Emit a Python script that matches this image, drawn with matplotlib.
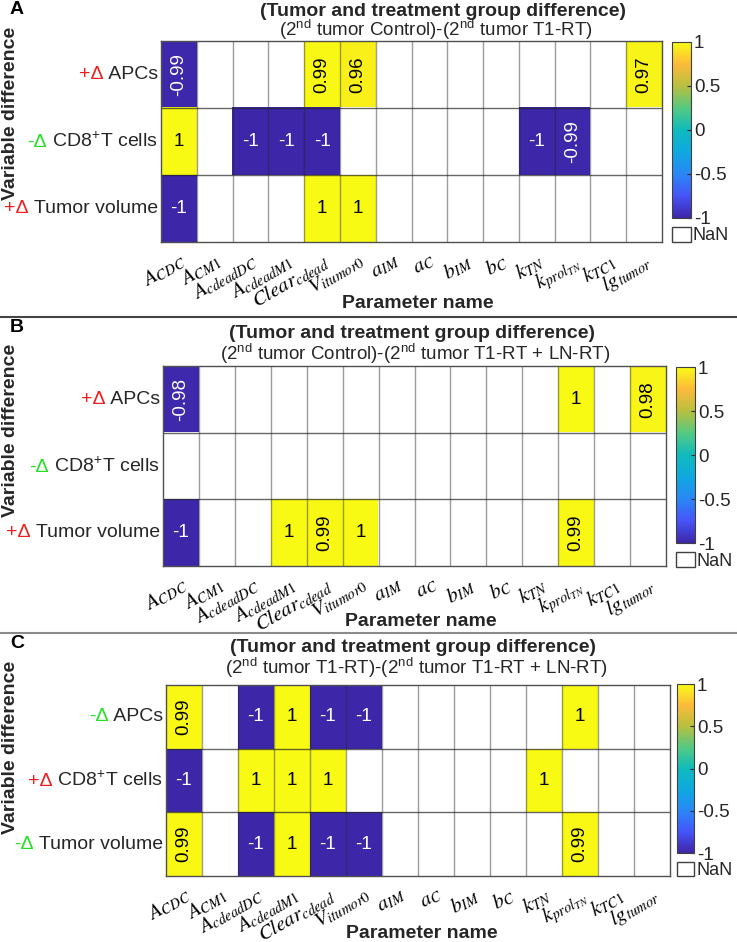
import numpy as np
import matplotlib
matplotlib.use("Agg")
import matplotlib.pyplot as plt
from matplotlib.colors import LinearSegmentedColormap
from matplotlib.lines import Line2D
from matplotlib.patches import Rectangle
from matplotlib.offsetbox import TextArea, HPacker, AnnotationBbox

plt.rcParams["font.family"] = ["Liberation Sans", "DejaVu Sans"]
plt.rcParams["mathtext.fontset"] = "custom"
plt.rcParams["mathtext.rm"] = "Liberation Sans"
plt.rcParams["mathtext.it"] = "Liberation Sans:italic"
plt.rcParams["mathtext.bf"] = "Liberation Sans:bold"
plt.rcParams["axes.unicode_minus"] = False

nan = np.nan

# parameter names (x axis)
param_labels = [r"$A_{CDC}$", r"$A_{CM1}$", r"$A_{cdeadDC}$", r"$A_{cdeadM1}$",
                r"$Clear_{cdead}$", r"$V_{itumor0}$", r"$a_{IM}$", r"$a_{C}$",
                r"$b_{IM}$", r"$b_{C}$", r"$k_{TN}$", r"$k_{prol_{TN}}$",
                r"$k_{TC1}$", r"$lg_{tumor}$"]
row_names = ["APCs", "CD8$^{+}$T cells", "Tumor volume"]

signs_a = ["+Δ", "-Δ", "+Δ"]
signs_b = ["+Δ", "-Δ", "+Δ"]
signs_c = ["-Δ", "+Δ", "-Δ"]

vals_a = [
    [-0.99, nan, nan, nan, 0.99, 0.96, nan, nan, nan, nan, nan, nan, nan, 0.97],
    [1, nan, -1, -1, -1, nan, nan, nan, nan, nan, -1, -0.99, nan, nan],
    [-1, nan, nan, nan, 1, 1, nan, nan, nan, nan, nan, nan, nan, nan],
]
vals_b = [
    [-0.98, nan, nan, nan, nan, nan, nan, nan, nan, nan, nan, 1, nan, 0.98],
    [nan] * 14,
    [-1, nan, nan, 1, 0.99, 1, nan, nan, nan, nan, nan, 0.99, nan, nan],
]
vals_c = [
    [0.99, nan, -1, 1, -1, -1, nan, nan, nan, nan, nan, 1, nan, nan],
    [-1, nan, 1, 1, 1, nan, nan, nan, nan, nan, 1, nan, nan, nan],
    [0.99, nan, -1, 1, -1, -1, nan, nan, nan, nan, nan, 0.99, nan, nan],
]

title_main = "(Tumor and treatment group difference)"
sub_a = r"(2$^{\rm nd}$ tumor Control)-(2$^{\rm nd}$ tumor T1-RT)"
sub_b = r"(2$^{\rm nd}$ tumor Control)-(2$^{\rm nd}$ tumor T1-RT + LN-RT)"
sub_c = r"(2$^{\rm nd}$ tumor T1-RT)-(2$^{\rm nd}$ tumor T1-RT + LN-RT)"
cbar_ticks = [-1, -0.5, 0, 0.5, 1]

# approximate MATLAB parula
parula = LinearSegmentedColormap.from_list("parula", [
    (0.000, (0.242, 0.150, 0.660)),
    (0.125, (0.275, 0.330, 0.975)),
    (0.250, (0.160, 0.530, 0.960)),
    (0.375, (0.060, 0.660, 0.880)),
    (0.500, (0.060, 0.730, 0.740)),
    (0.625, (0.330, 0.790, 0.510)),
    (0.750, (0.720, 0.750, 0.250)),
    (0.875, (0.990, 0.730, 0.230)),
    (1.000, (0.977, 0.984, 0.081)),
])
parula.set_bad("white")

W, H = 737, 942
RED = "#f01e1e"
GREEN = "#22e022"
TXT = "#262626"

fig = plt.figure(figsize=(W / 100, H / 100), dpi=100)


def box(l, t, r, b):
    return [l / W, 1 - b / H, (r - l) / W, (b - t) / H]


def draw_panel(vals, signs, letter, subtitle, geo):
    L, T, R, B = geo["heat"]
    data = np.array(vals, dtype=float)
    nr, nc = data.shape
    ax = fig.add_axes(box(L, T, R, B))
    ax.imshow(np.ma.masked_invalid(data), cmap=parula, vmin=-1, vmax=1,
              aspect="auto", interpolation="nearest")
    ax.set_xlim(-0.5, nc - 0.5)
    ax.set_ylim(nr - 0.5, -0.5)
    for i in range(1, nc):
        ax.axvline(i - 0.5, color="#262626", alpha=0.45, lw=1.0)
    for j in range(1, nr):
        ax.axhline(j - 0.5, color="#262626", alpha=0.7, lw=1.0)
    for s in ax.spines.values():
        s.set_color("#505050")
        s.set_linewidth(1.0)
    ax.set_yticks([])
    ax.set_xticks(range(nc))
    ax.tick_params(axis="x", length=0, pad=6)
    ax.set_xticklabels(param_labels, rotation=30, ha="right", va="top",
                       rotation_mode="anchor", fontsize=15, math_fontfamily="stix")

    for r in range(nr):
        for c in range(nc):
            v = data[r, c]
            if np.isnan(v):
                continue
            col = "white" if v < 0 else "black"
            if float(v).is_integer():
                ax.text(c, r, "%d" % v, ha="center", va="center", fontsize=13.5, color=col)
            else:
                ax.text(c, r, "%.2f" % v, ha="center", va="center", fontsize=13.5,
                        color=col, rotation=90)

    # row labels with coloured delta prefix
    for r in range(nr):
        pk = TextArea(signs[r], textprops=dict(color=RED if signs[r][0] == "+" else GREEN,
                                                fontsize=14))
        nm = TextArea(" " + row_names[r], textprops=dict(color=TXT, fontsize=14))
        pack = HPacker(children=[pk, nm], align="baseline", pad=0, sep=0)
        ycen = H - (T + (r + 0.5) * (B - T) / nr)
        ab = AnnotationBbox(pack, (L - 3, ycen), xycoords="figure pixels",
                            box_alignment=(1, 0.5), frameon=False, pad=0)
        fig.add_artist(ab)

    # colorbar
    cl, ct, cr, cb = geo["cbar"]
    cax = fig.add_axes(box(cl, ct, cr, cb))
    sm = plt.cm.ScalarMappable(cmap=parula, norm=plt.Normalize(-1, 1))
    cbar = fig.colorbar(sm, cax=cax, ticks=cbar_ticks)
    cbar.ax.set_yticklabels(["%g" % t for t in cbar_ticks])
    cbar.ax.tick_params(labelsize=13.5, direction="in", length=3, colors=TXT, pad=2)
    cbar.outline.set_edgecolor("#404040")
    nt, nb = geo["nan"]
    fig.add_artist(Rectangle((cl / W, 1 - nb / H), (cr - cl) / W, (nb - nt) / H,
                             transform=fig.transFigure, facecolor="white",
                             edgecolor="#404040", lw=1.0))
    fig.text((cr + 2) / W, 1 - (nt + nb + 3) / 2 / H, "NaN", fontsize=13, color=TXT,
             ha="left", va="center")

    # titles and labels
    fig.text(geo["letter"][0] / W, 1 - geo["letter"][1] / H, letter, fontsize=14,
             fontweight="bold", ha="center", va="center")
    fig.text(geo["title"][0] / W, 1 - geo["title"][1] / H, title_main, fontsize=14,
             fontweight="bold", ha="center", va="center", color=TXT)
    fig.text(geo["sub"][0] / W, 1 - (geo["sub"][1] + 1) / H, subtitle, fontsize=13.5,
             ha="center", va="center", color=TXT)
    fig.text(10.5 / W, 1 - geo["vlab"] / H, "Variable difference", fontsize=14,
             fontweight="bold", rotation=90, ha="center", va="center", color=TXT)
    fig.text(geo["xlab"][0] / W, 1 - geo["xlab"][1] / H, "Parameter name", fontsize=14,
             fontweight="bold", ha="center", va="center", color=TXT)
    return ax


draw_panel(vals_a, signs_a, "A", sub_a, dict(
    heat=(161, 41, 662, 242), cbar=(672, 42, 691, 218), nan=(227, 242),
    letter=(17, 10), title=(443, 11), sub=(436, 29), vlab=113, xlab=(418, 303)))
draw_panel(vals_b, signs_b, "B", sub_b, dict(
    heat=(163, 366, 666, 566), cbar=(676, 367, 695, 543), nan=(552, 567),
    letter=(17, 328), title=(412, 334), sub=(415, 353), vlab=430, xlab=(421, 621)))
draw_panel(vals_c, signs_c, "C", sub_c, dict(
    heat=(166, 685, 670, 876), cbar=(677, 684, 694, 853), nan=(862, 876),
    letter=(17, 643), title=(413, 648), sub=(416, 667), vlab=747, xlab=(422, 934)))

# panel separators
fig.add_artist(Line2D([0, 1], [1 - 317 / H] * 2, transform=fig.transFigure,
                      color="#444444", lw=1.5))
fig.add_artist(Line2D([0, 1], [1 - 633 / H] * 2, transform=fig.transFigure,
                      color="#8a8a8a", lw=1.5))

fig.savefig("out.png", dpi=100, facecolor="white")
